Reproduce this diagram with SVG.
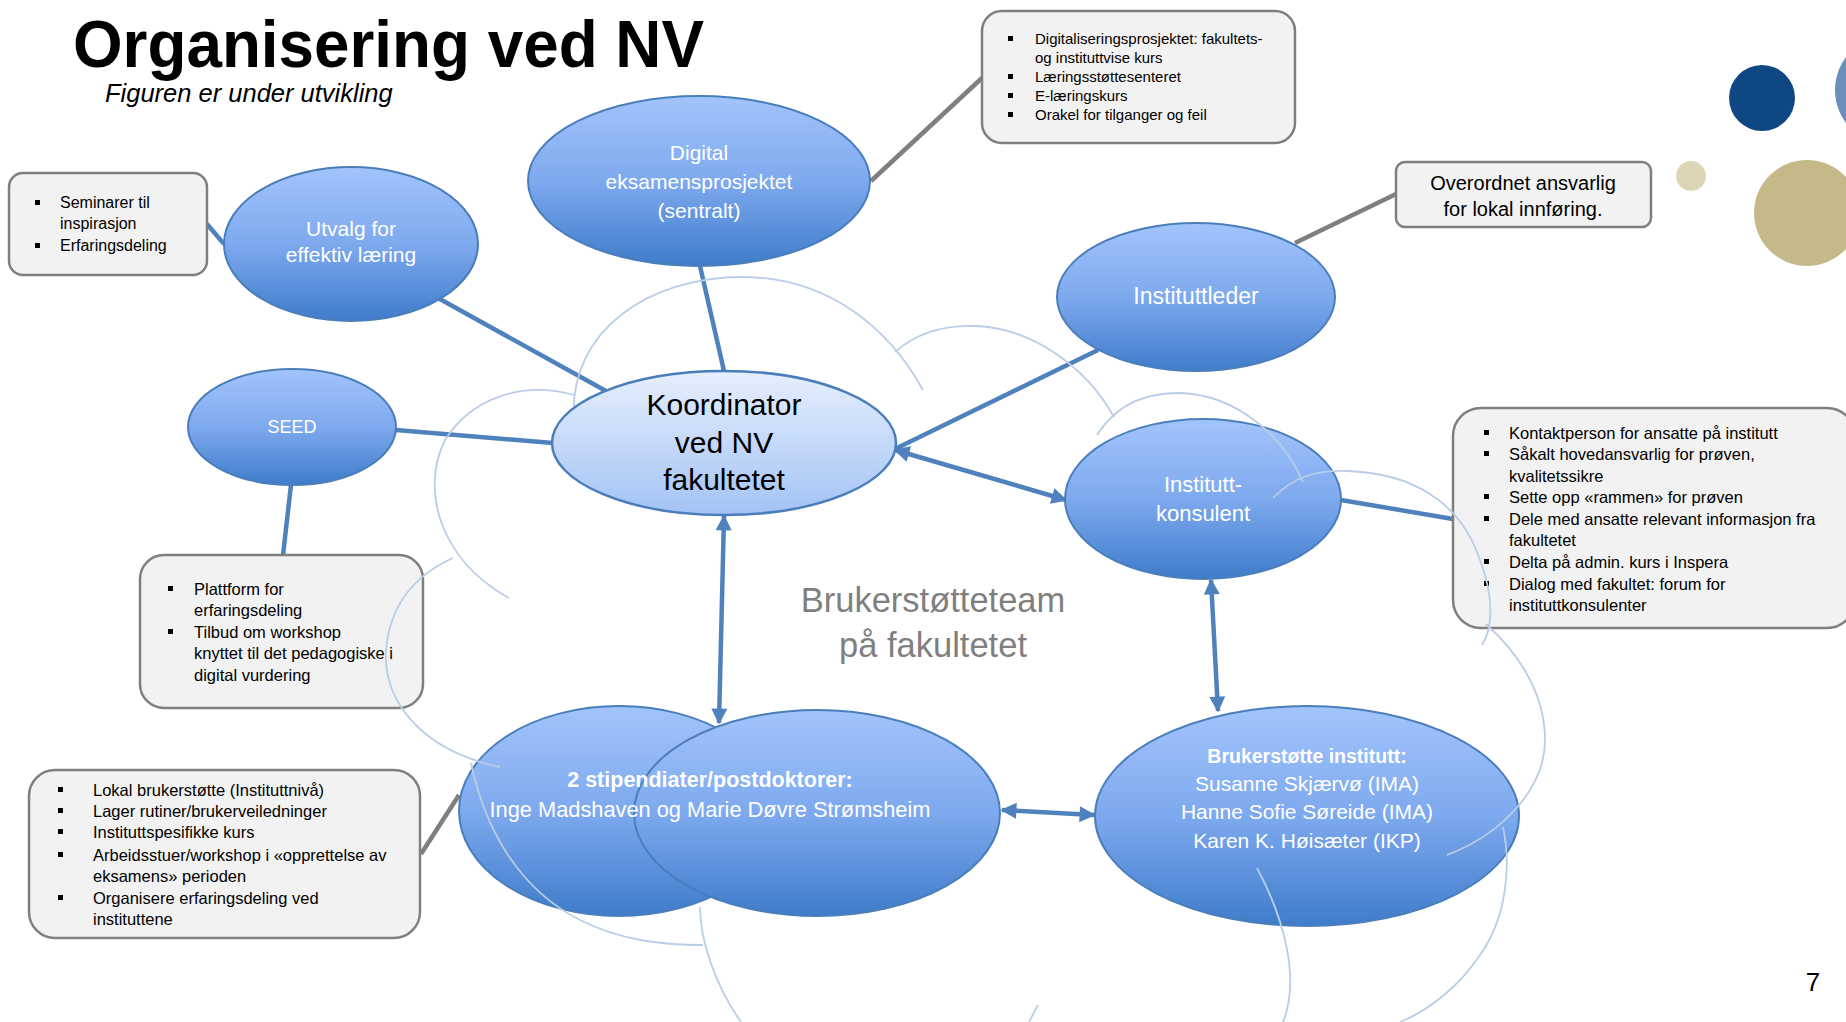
<svg xmlns="http://www.w3.org/2000/svg" width="1846" height="1022" viewBox="0 0 1846 1022">
<defs>
<linearGradient id="gBlue" x1="0" y1="0" x2="0" y2="1">
<stop offset="0" stop-color="#a2c4fc"/>
<stop offset="0.5" stop-color="#7ea9ee"/>
<stop offset="1" stop-color="#3f7cca"/>
</linearGradient>
<linearGradient id="gLight" x1="0" y1="0" x2="0" y2="1">
<stop offset="0" stop-color="#e6effd"/>
<stop offset="1" stop-color="#a3c3f5"/>
</linearGradient>
<marker id="arr" viewBox="0 0 10 10" refX="9" refY="5" markerWidth="18" markerHeight="16" markerUnits="userSpaceOnUse" orient="auto-start-reverse">
<path d="M0,0 L10,5 L0,10 z" fill="#4f81bd"/>
</marker>
<style>
.node{stroke:#4a7ebb;stroke-width:2;fill:url(#gBlue);}
.koord{stroke:#4a7ebb;stroke-width:2.5;fill:url(#gLight);}
.box{fill:#f2f2f2;stroke:#7f7f7f;stroke-width:2.5;}
.wt{font-family:"Liberation Sans",Arial,sans-serif;fill:#ffffff;text-anchor:middle;}
.bk{font-family:"Liberation Sans",Arial,sans-serif;fill:#000000;}
.bul{fill:#000000;}
.lnk{stroke:#4f81bd;stroke-width:4.5;fill:none;}
.gl{stroke:#7f7f7f;stroke-width:4.5;fill:none;}
.cl{stroke:#b9cde8;stroke-width:1.8;fill:none;}
</style>
</defs>
<rect x="0" y="0" width="1846" height="1022" fill="#ffffff"/>

<g id="decor">
<circle cx="1890" cy="90" r="55" fill="#6a8fbb"/>
<circle cx="1762" cy="98" r="33" fill="#0f4785"/>
<circle cx="1691" cy="176" r="15" fill="#ddd6b6"/>
<circle cx="1807" cy="213" r="53" fill="#c5b98a"/>
</g>

<g id="title">
<text x="73" y="67" font-family="Liberation Sans, Arial, sans-serif" font-weight="bold" font-size="67" textLength="631" lengthAdjust="spacingAndGlyphs" fill="#000">Organisering ved NV</text>
<text x="105" y="102" font-family="Liberation Sans, Arial, sans-serif" font-style="italic" font-size="25.5" fill="#000">Figuren er under utvikling</text>
</g>

<g id="connectors">
<line class="lnk" x1="438" y1="298" x2="606" y2="391"/>
<line class="lnk" x1="700" y1="266" x2="724" y2="371"/>
<line class="lnk" x1="396" y1="430" x2="553" y2="443"/>
<line class="lnk" x1="291" y1="485" x2="283" y2="555"/>
<line class="lnk" x1="207" y1="224" x2="224" y2="244"/>
<line class="lnk" x1="1098" y1="350" x2="895" y2="449"/>
<line class="lnk" x1="1341" y1="500" x2="1453" y2="519"/>
<line class="lnk" x1="895" y1="450" x2="1066" y2="500" marker-start="url(#arr)" marker-end="url(#arr)"/>
<line class="lnk" x1="724" y1="516" x2="719" y2="723" marker-start="url(#arr)" marker-end="url(#arr)"/>
<line class="lnk" x1="1211" y1="580" x2="1218" y2="711" marker-start="url(#arr)" marker-end="url(#arr)"/>
<line class="lnk" x1="1002" y1="810" x2="1094" y2="815" marker-start="url(#arr)" marker-end="url(#arr)"/>
<line class="gl" x1="871" y1="181" x2="982" y2="78"/>
<line class="gl" x1="1295" y1="243" x2="1396" y2="194"/>
<line class="gl" x1="421" y1="854" x2="459" y2="795"/>
</g>

<g id="digital">
<ellipse class="node" cx="699" cy="181" rx="171" ry="85"/>
<text class="wt" font-size="21" x="699" y="160">Digital</text>
<text class="wt" font-size="21" x="699" y="189">eksamensprosjektet</text>
<text class="wt" font-size="21" x="699" y="218">(sentralt)</text>
</g>

<g id="utvalg">
<ellipse class="node" cx="351" cy="244" rx="127" ry="77"/>
<text class="wt" font-size="21" x="351" y="236">Utvalg for</text>
<text class="wt" font-size="21" x="351" y="262">effektiv læring</text>
</g>

<g id="seed">
<ellipse class="node" cx="292" cy="427" rx="104" ry="58"/>
<text class="wt" font-size="18" x="292" y="433">SEED</text>
</g>

<g id="instituttleder">
<ellipse class="node" cx="1196" cy="297" rx="139" ry="74"/>
<text class="wt" font-size="23" x="1196" y="304">Instituttleder</text>
</g>

<g id="instituttkonsulent">
<ellipse class="node" cx="1203" cy="499" rx="138" ry="80"/>
<text class="wt" font-size="22" x="1203" y="492">Institutt-</text>
<text class="wt" font-size="22" x="1203" y="521">konsulent</text>
</g>

<g id="stipendiater">
<ellipse class="node" cx="619" cy="811" rx="160" ry="105"/>
<ellipse class="node" cx="817" cy="813" rx="183" ry="103"/>
<text class="wt" font-size="21.5" font-weight="bold" x="710" y="787">2 stipendiater/postdoktorer:</text>
<text class="wt" font-size="21.8" x="710" y="817">Inge Madshaven og Marie Døvre Strømsheim</text>
</g>

<g id="brukerstotte">
<ellipse class="node" cx="1307" cy="816" rx="212" ry="110"/>
<text class="wt" font-size="19.5" font-weight="bold" x="1307" y="763">Brukerstøtte institutt:</text>
<text class="wt" font-size="21" x="1307" y="791">Susanne Skjærvø (IMA)</text>
<text class="wt" font-size="21" x="1307" y="819">Hanne Sofie Søreide (IMA)</text>
<text class="wt" font-size="21" x="1307" y="848">Karen K. Høisæter (IKP)</text>
</g>

<g id="team-label">
<text x="933" y="612" font-family="Liberation Sans, Arial, sans-serif" font-size="34.5" fill="#7f7f7f" text-anchor="middle">Brukerstøtteteam</text>
<text x="933" y="657" font-family="Liberation Sans, Arial, sans-serif" font-size="34.5" fill="#7f7f7f" text-anchor="middle">på fakultetet</text>
</g>

<g id="box-seminarer">
<rect class="box" x="9" y="173" width="198" height="102" rx="14"/>
<rect class="bul" x="35" y="200" width="5" height="5"/>
<rect class="bul" x="35" y="243" width="5" height="5"/>
<text class="bk" font-size="16" x="60" y="208">Seminarer til</text>
<text class="bk" font-size="16" x="60" y="229">inspirasjon</text>
<text class="bk" font-size="16" x="60" y="251">Erfaringsdeling</text>
</g>

<g id="box-digitalisering">
<rect class="box" x="982" y="11" width="313" height="132" rx="20"/>
<rect class="bul" x="1008" y="36" width="5" height="5"/>
<rect class="bul" x="1008" y="74" width="5" height="5"/>
<rect class="bul" x="1008" y="93" width="5" height="5"/>
<rect class="bul" x="1008" y="112" width="5" height="5"/>
<text class="bk" font-size="15" x="1035" y="44">Digitaliseringsprosjektet: fakultets-</text>
<text class="bk" font-size="15" x="1035" y="63">og instituttvise kurs</text>
<text class="bk" font-size="15" x="1035" y="82">Læringsstøttesenteret</text>
<text class="bk" font-size="15" x="1035" y="101">E-læringskurs</text>
<text class="bk" font-size="15" x="1035" y="120">Orakel for tilganger og feil</text>
</g>

<g id="box-overordnet">
<rect class="box" x="1396" y="162" width="255" height="65" rx="9"/>
<text class="bk" font-size="20" x="1523" y="190" text-anchor="middle">Overordnet ansvarlig</text>
<text class="bk" font-size="20" x="1523" y="216" text-anchor="middle">for lokal innføring.</text>
</g>

<g id="box-kontaktperson">
<rect class="box" x="1453" y="408" width="402" height="220" rx="28"/>
<rect class="bul" x="1484" y="430" width="5" height="5"/>
<rect class="bul" x="1484" y="451" width="5" height="5"/>
<rect class="bul" x="1484" y="494" width="5" height="5"/>
<rect class="bul" x="1484" y="516" width="5" height="5"/>
<rect class="bul" x="1484" y="559" width="5" height="5"/>
<rect class="bul" x="1484" y="581" width="5" height="5"/>
<text class="bk" font-size="16.5" x="1509" y="439">Kontaktperson for ansatte på institutt</text>
<text class="bk" font-size="16.5" x="1509" y="460">Såkalt hovedansvarlig for prøven,</text>
<text class="bk" font-size="16.5" x="1509" y="482">kvalitetssikre</text>
<text class="bk" font-size="16.5" x="1509" y="503">Sette opp «rammen» for prøven</text>
<text class="bk" font-size="16.5" x="1509" y="525">Dele med ansatte relevant informasjon fra</text>
<text class="bk" font-size="16.5" x="1509" y="546">fakultetet</text>
<text class="bk" font-size="16.5" x="1509" y="568">Delta på admin. kurs i Inspera</text>
<text class="bk" font-size="16.5" x="1509" y="590">Dialog med fakultet: forum for</text>
<text class="bk" font-size="16.5" x="1509" y="611">instituttkonsulenter</text>
</g>

<g id="box-plattform">
<rect class="box" x="140" y="555" width="283" height="153" rx="24"/>
<rect class="bul" x="168" y="586" width="5" height="5"/>
<rect class="bul" x="168" y="629" width="5" height="5"/>
<text class="bk" font-size="16.5" x="194" y="595">Plattform for</text>
<text class="bk" font-size="16.5" x="194" y="616">erfaringsdeling</text>
<text class="bk" font-size="16.5" x="194" y="638">Tilbud om workshop</text>
<text class="bk" font-size="16.5" x="194" y="659">knyttet til det pedagogiske i</text>
<text class="bk" font-size="16.5" x="194" y="681">digital vurdering</text>
</g>

<g id="box-lokal">
<rect class="box" x="29" y="770" width="391" height="168" rx="26"/>
<rect class="bul" x="58" y="787" width="5" height="5"/>
<rect class="bul" x="58" y="808" width="5" height="5"/>
<rect class="bul" x="58" y="829" width="5" height="5"/>
<rect class="bul" x="58" y="852" width="5" height="5"/>
<rect class="bul" x="58" y="895" width="5" height="5"/>
<text class="bk" font-size="16.5" x="93" y="796">Lokal brukerstøtte (Instituttnivå)</text>
<text class="bk" font-size="16.5" x="93" y="817">Lager rutiner/brukerveiledninger</text>
<text class="bk" font-size="16.5" x="93" y="838">Instituttspesifikke kurs</text>
<text class="bk" font-size="16.5" x="93" y="861">Arbeidsstuer/workshop i «opprettelse av</text>
<text class="bk" font-size="16.5" x="93" y="882">eksamens» perioden</text>
<text class="bk" font-size="16.5" x="93" y="904">Organisere erfaringsdeling ved</text>
<text class="bk" font-size="16.5" x="93" y="925">instituttene</text>
</g>

<g id="cloud">
<path class="cl" d="M574,420 C568,330 650,277 742,277 C830,277 890,330 923,390"/>
<path class="cl" d="M895,352 C920,330 950,325 976,326 C1030,328 1085,365 1114,417"/>
<path class="cl" d="M1097,435 C1120,400 1150,393 1180,393 C1240,395 1285,440 1303,482"/>
<path class="cl" d="M1273,498 C1295,475 1320,470 1347,471 C1410,473 1460,500 1480,560 C1495,600 1492,630 1482,645"/>
<path class="cl" d="M1486,624 C1515,650 1545,690 1545,740 C1545,790 1500,835 1447,855"/>
<path class="cl" d="M1503,827 C1512,870 1505,920 1480,955 C1460,985 1430,1010 1400,1022"/>
<path class="cl" d="M1257,868 C1285,920 1300,980 1283,1022"/>
<path class="cl" d="M1038,1005 L1029,1022"/>
<path class="cl" d="M700,907 C700,940 715,985 741,1022"/>
<path class="cl" d="M471,763 C485,830 520,890 580,920 C620,940 660,945 703,945"/>
<path class="cl" d="M453,558 C415,575 390,605 386,650 C383,700 420,750 500,767"/>
<path class="cl" d="M574,395 C520,380 470,400 445,440 C420,490 440,560 509,598"/>
</g>

<g id="koordinator">
<ellipse class="koord" cx="724" cy="443" rx="172" ry="72"/>
<text class="bk" font-size="30" x="724" y="415" text-anchor="middle">Koordinator</text>
<text class="bk" font-size="30" x="724" y="453" text-anchor="middle">ved NV</text>
<text class="bk" font-size="30" x="724" y="490" text-anchor="middle">fakultetet</text>
</g>

<g id="page">
<text x="1813" y="991" font-family="Liberation Sans, Arial, sans-serif" font-size="26" fill="#000" text-anchor="middle">7</text>
</g>
</svg>
